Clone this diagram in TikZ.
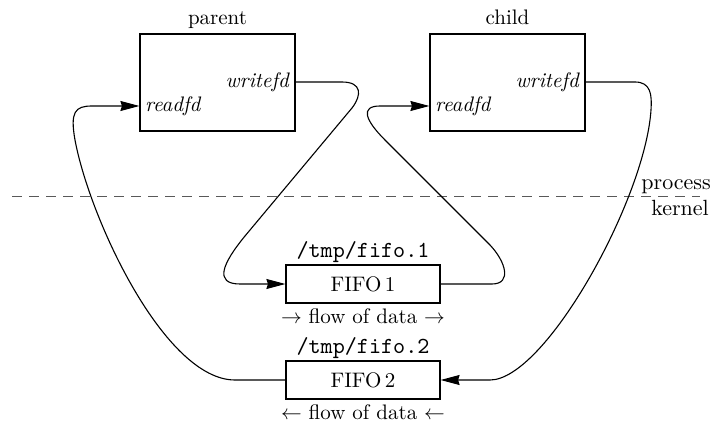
\documentclass[tikz,border=0pt]{standalone}
\usepackage{fontspec}
\setmainfont{lmroman10-regular.otf}[ItalicFont=lmroman10-italic.otf, BoldFont=lmroman10-bold.otf]
\setmonofont{lmmono10-regular.otf}
\usetikzlibrary{arrows.meta}

\tikzset{
  base/.style={font=\fontsize{21}{24}\selectfont, inner sep=0pt},
  side/.style={font=\fontsize{22}{26}\selectfont, inner sep=0pt},
  procbox/.style={draw, line width=1.2pt, minimum width=155pt, minimum height=97pt, inner sep=0pt},
  fifobox/.style={draw, line width=1.2pt, minimum width=154pt, minimum height=38pt, inner sep=0pt,
    font=\fontsize{21}{24}\selectfont},
  fdlabel/.style={inner sep=0pt, font=\fontsize{21}{24}\selectfont\itshape},
  pathlabel/.style={inner sep=0pt, font=\fontsize{23}{26}\selectfont\ttfamily},
  pipe/.style={line width=1.1pt},
  feed/.style={pipe, -{Stealth[length=19pt, width=10pt, inset=1.5pt]}},
  boundary/.style={line width=1pt, dash pattern=on 10pt off 7pt, gray!70!black}
}

\begin{document}
\begin{tikzpicture}[x=1pt, y=-1pt]
  \useasboundingbox[fill=white] (0,0) rectangle (712,422);

  % the two processes
  \node[procbox] (P) at (217.5,82.5) {};
  \node[procbox] (C) at (507.5,82.5) {};
  \node[base, anchor=base] (ptitle) at (217.5,25) {parent};
  \node[base, anchor=base] (ctitle) at (507.5,25) {child};
  \node[fdlabel, anchor=east] (pw) at (289,82) {writefd};
  \node[fdlabel, anchor=west] (pr) at (145,106) {readfd};
  \node[fdlabel, anchor=east] (cw) at (579,82) {writefd};
  \node[fdlabel, anchor=west] (cr) at (435,106) {readfd};

  % user / kernel boundary
  \coordinate (bl) at (12,197);
  \coordinate (br) at (700,197);
  \draw[boundary] (bl) -- (br);
  \node[side, anchor=base east] (proc) at (711,190) {process};
  \node[side, anchor=base east] (kern) at (709,215) {kernel};

  % the two FIFOs
  \node[fifobox] (F1) at (363,284) {FIFO\,1};
  \node[fifobox] (F2) at (363,380) {FIFO\,2};
  \node[pathlabel, anchor=base] (n1) at (363,257) {/tmp/fifo.1};
  \node[pathlabel, anchor=base] (n2) at (363,353) {/tmp/fifo.2};
  \node[base] (d1) at (363,316) {$\rightarrow$ flow of data $\rightarrow$};
  \node[base] (d2) at (363,412) {$\leftarrow$ flow of data $\leftarrow$};

  % parent writes into FIFO 1
  \draw[feed] (P.east |- pw) -- (342,82)
    .. controls (362,82) and (362,95) .. (352,108)
    -- (245,236)
    .. controls (222,264) and (214,284) .. (240,284)
    -- (F1.west);

  % FIFO 1 is read by the child
  \draw[feed] (F1.east) -- (492,284)
    .. controls (512,284) and (506,262) .. (490,245)
    -- (385,140)
    .. controls (365,120) and (360,106) .. (380,106)
    -- (C.west |- cr);

  % child writes into FIFO 2
  \draw[feed] (C.east |- cw) -- (635,82)
    .. controls (651,82) and (652,95) .. (651,110)
    .. controls (645,200) and (545,380) .. (490,380)
    -- (F2.east);

  % FIFO 2 is read by the parent
  \draw[feed] (F2.west) -- (235,380)
    .. controls (165,380) and (90,220) .. (75,140)
    .. controls (70,112) and (75,106) .. (92,106)
    -- (P.west |- pr);
\end{tikzpicture}
\end{document}
